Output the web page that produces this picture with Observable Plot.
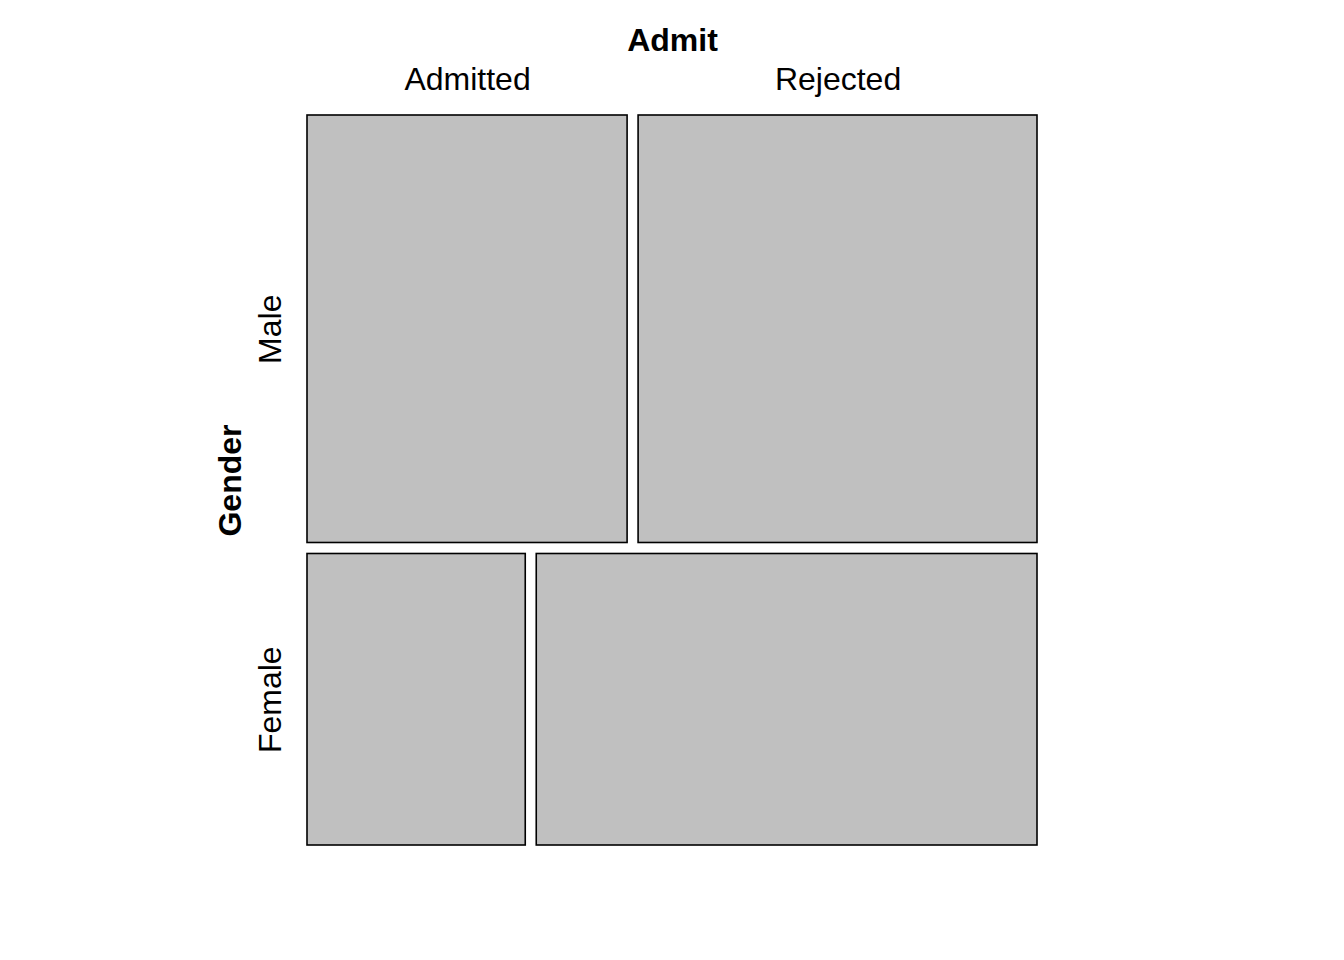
<!DOCTYPE html>
<html>
<head>
<meta charset="utf-8">
<script src="https://cdn.jsdelivr.net/npm/d3@7"></script>
<script src="https://cdn.jsdelivr.net/npm/@observablehq/plot@0.6"></script>
<style>
  html, body { margin: 0; padding: 0; background: #fff; }
  #chart svg { display: block; }
</style>
</head>
<body>
<div id="chart"></div>
<script>
// UCBAdmissions aggregated over departments
const genders = ["Male", "Female"];
const admits = ["Admitted", "Rejected"];
const counts = {
  Male:   [1198, 1493],
  Female: [557, 1278]
};
const rowVarName = "Gender";
const colVarName = "Admit";

const W = 1344, H = 960;
const plotLeft = 307, plotRight = 1037, plotTop = 115, plotBottom = 845;
const gapFrac = 11 / 719; // spacing between tiles relative to unit span
const span = 1 + gapFrac;

// build mosaic tiles
const grand = genders.reduce((s, g) => s + d3.sum(counts[g]), 0);
const tiles = [];
let yCur = 0;
const rowInfo = [];
genders.forEach((g, gi) => {
  const rowTot = d3.sum(counts[g]);
  const h = rowTot / grand;
  let xCur = 0;
  admits.forEach((a, ai) => {
    const w = counts[g][ai] / rowTot;
    tiles.push({gender: g, admit: a, x1: xCur, x2: xCur + w, y1: yCur, y2: yCur + h});
    xCur += w + gapFrac;
  });
  rowInfo.push({gender: g, yc: yCur + h / 2});
  yCur += h + gapFrac;
});
const topRow = tiles.filter(t => t.gender === genders[0]);
const colLabels = topRow.map(t => ({label: t.admit, xc: (t.x1 + t.x2) / 2}));

const font = "'Liberation Sans', Arial, Helvetica, sans-serif";

const chart = Plot.plot({
  width: W,
  height: H,
  marginLeft: plotLeft,
  marginRight: W - plotRight,
  marginTop: plotTop,
  marginBottom: H - plotBottom,
  style: {fontFamily: font, background: "#fff"},
  x: {domain: [0, span], axis: null},
  y: {domain: [0, span], axis: null, reverse: true},
  marks: [
    Plot.rect(tiles, {x1: "x1", x2: "x2", y1: "y1", y2: "y2", fill: "#c0c0c0", stroke: "#000", strokeWidth: 1.6}),
    Plot.text(colLabels, {x: "xc", y: 0, text: "label", dy: -36, fontSize: 32, fill: "#000"}),
    Plot.text([colVarName], {x: span / 2, y: 0, text: d => d, dy: -75, fontSize: 32, fontWeight: "bold", fill: "#000"}),
    Plot.text(rowInfo, {x: 0, y: "yc", text: "gender", dx: -37, rotate: -90, fontSize: 32, fill: "#000"}),
    Plot.text([rowVarName], {x: 0, y: span / 2, text: d => d, dx: -77, rotate: -90, fontSize: 32, fontWeight: "bold", fill: "#000"})
  ]
});
document.getElementById("chart").appendChild(chart);
</script>
</body>
</html>
